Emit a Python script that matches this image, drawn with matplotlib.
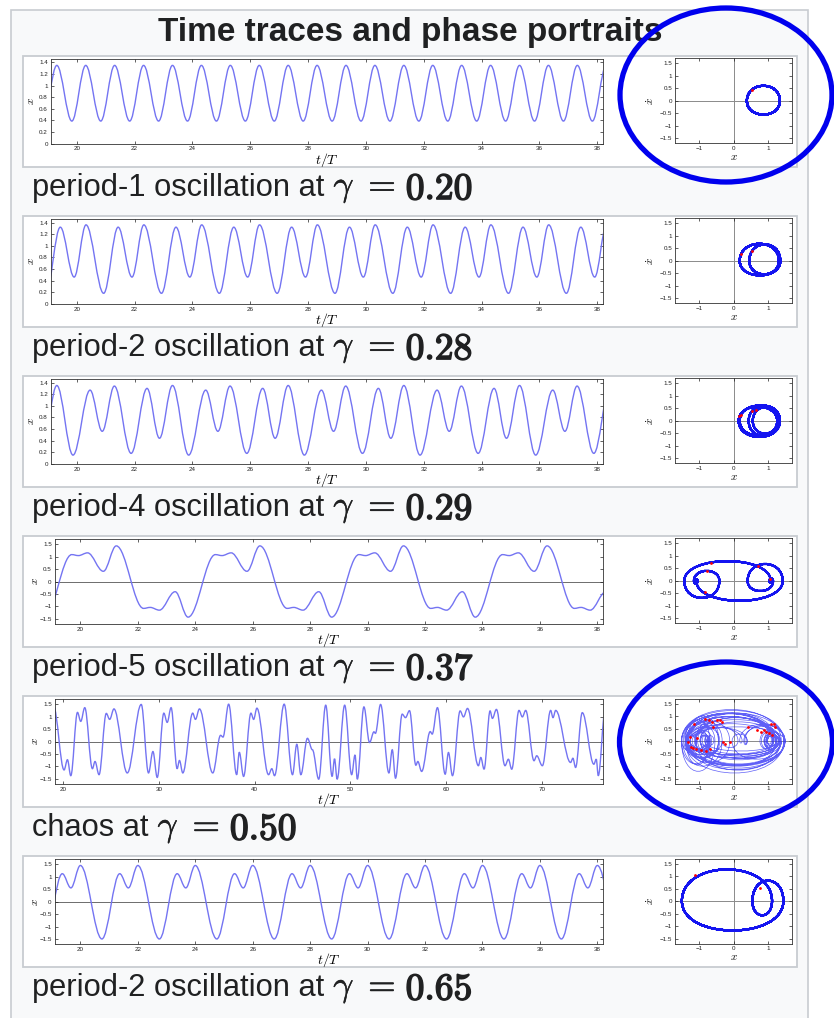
import numpy as np
import matplotlib
matplotlib.use("Agg")
import matplotlib.pyplot as plt
import matplotlib.patheffects as pe
from matplotlib.path import Path
from matplotlib.patches import PathPatch, Rectangle, Ellipse

plt.rcParams['mathtext.fontset'] = 'cm'
plt.rcParams['font.family'] = ['Liberation Sans', 'DejaVu Sans']

W, H = 834, 1018
OMEGA = 1.2
T_DRIVE = 2 * np.pi / OMEGA          # forcing period in time units

# ---------------------------------------------------------------- data
gammas = ["0.20", "0.28", "0.29", "0.37", "0.50", "0.65"]
captions = ["period-1 oscillation at", "period-2 oscillation at",
            "period-4 oscillation at", "period-5 oscillation at",
            "chaos at", "period-2 oscillation at"]

# turning points of x(t) over one repeat (t/T measured from the origin)
p1_origin, p1_period = 0.0, 1
p1_phase = [0.31, 0.83]
p1_x = [1.35, 0.39]

p2_origin, p2_period = 20.0, 2
p2_phase = [0.32, 0.93, 1.43, 1.91]
p2_x = [1.36, 0.18, 1.32, 0.46]

p4_origin, p4_period = 19.0, 4
p4_phase = [0.31, 0.87, 1.46, 1.88, 2.30, 2.88, 3.43, 3.86]
p4_x = [1.35, 0.15, 1.27, 0.56, 1.34, 0.18, 1.30, 0.44]

p5_origin, p5_period = 19.0, 5
p5_phase = [0.70, 0.93, 1.25, 1.80, 2.25, 3.20, 3.43, 3.75, 4.30, 4.75]
p5_x = [1.08, 1.04, 1.15, 0.41, 1.43, -1.08, -1.04, -1.15, -0.41, -1.43]

p2b_origin, p2b_period = 18.75, 2
p2b_phase = [0.00, 0.62, 0.92, 1.25]
p2b_x = [-1.50, 1.12, 0.55, 1.45]

# chaotic run: turning points of x(t)
chaos_t = [19.00, 20.10, 20.45, 20.80, 21.50, 21.84, 22.26, 23.06, 23.33, 23.75,
           24.51, 24.86, 25.31, 26.70, 28.16, 28.92, 29.38, 29.83, 30.52, 30.87,
           31.28, 31.91, 32.15, 32.50, 33.54, 33.82, 34.24, 35.63, 36.45, 36.70,
           37.29, 38.13, 38.40, 38.85, 39.62, 39.90, 40.24, 41.46, 41.80, 42.08,
           43.09, 43.96, 44.41, 44.83, 45.52, 46.04, 46.70, 47.43, 48.10, 48.35,
           48.62, 49.41, 50.14, 50.49, 50.73, 51.42, 52.01, 52.47, 52.62, 53.16,
           54.03, 54.38, 54.72, 55.42, 55.76, 56.18, 56.85, 57.05, 57.45, 58.35,
           58.55, 59.10, 59.91, 60.25, 60.67, 61.47, 61.82, 62.24, 63.38, 63.63,
           63.97, 64.60, 64.84, 65.26, 66.16, 66.51, 66.86, 67.62, 67.97, 68.32,
           69.19, 69.47, 70.06, 70.93, 71.17, 71.45, 73.01, 73.25, 73.53, 74.23,
           75.44, 75.69, 75.90, 76.60]
chaos_x = [1.40, -1.14, -0.73, -1.37, 1.17, 0.81, 1.36, -1.09, -0.80, -1.33,
           1.13, 0.89, 1.31, -1.26, 1.49, -1.26, -0.40, -1.44, 1.14, 0.77,
           1.36, -1.09, -0.76, -1.26, 1.14, 0.89, 1.31, -1.26, 0.25, 0.18,
           1.50, -1.33, -0.43, -1.40, 1.14, 0.89, 1.34, -1.33, -1.09, -1.37,
           1.50, -1.33, -0.11, -1.33, 0.13, -0.33, -1.51, 1.46, -1.40, -0.69,
           -1.51, 1.46, -1.33, -0.54, -1.51, 1.39, -0.04, 0.39, 0.33, 1.49,
           -1.26, -0.33, -1.47, 1.10, 0.96, 1.24, -0.95, -0.80, -1.20, 0.40,
           0.30, 1.36, -1.31, -0.44, -1.37, 1.23, 0.99, 1.33, -0.97, -0.64,
           -1.11, 1.23, 0.93, 1.29, -0.97, -0.71, -1.11, 1.25, 0.99, 1.25,
           -0.77, -0.57, -0.97, 1.25, 0.96, 1.25, -0.84, -0.67, -1.04, 1.16,
           -0.91, -0.71, -1.37, 1.20]

# stroboscopic (t = nT) points in the phase plane
poinc1_x, poinc1_v = [0.55], [0.45]
poinc2_x, poinc2_v = [0.21, 0.55], [0.27, 0.40]
poinc4_x, poinc4_v = [0.17, 0.21, 0.55, 0.64], [0.18, 0.25, 0.40, 0.42]
poinc5_x, poinc5_v = [-0.65, -0.78, -0.82, 0.72, 1.07], [0.73, 0.40, -0.43, 0.60, 0.09]
poincc_x = [-1.14, -0.84, -0.71, -0.62, -0.59, -0.49, -0.40, -0.33, -1.26, -1.31,
            -1.24, -1.19, -1.09, -0.95, -0.81, -0.67, -0.30, -0.24, -0.09, 0.41,
            0.69, 0.79, 0.88, 0.93, 1.03, 1.10, 1.17, 1.21, 1.12, -1.05]
poincc_v = [0.70, 0.90, 0.86, 0.77, 0.57, 0.86, 0.84, 0.77, 0.17, -0.03,
            -0.23, -0.29, -0.33, -0.36, -0.39, -0.33, -0.03, -0.12, -0.03, 0.57,
            0.44, 0.37, 0.44, 0.37, 0.31, 0.68, 0.70, 0.57, 0.24, 0.11]
poinc2b_x, poinc2b_v = [-1.12, 0.76], [1.04, 0.52]


# ---------------------------------------------------------------- helpers
def tile(phases, values, period, origin, t_lo, t_hi):
    ts, xs = [], []
    k = int(np.floor((t_lo - origin) / period)) - 1
    while origin + k * period <= t_hi + period:
        base = origin + k * period
        for p, v in zip(phases, values):
            ts.append(base + p)
            xs.append(v)
        k += 1
    return np.array(ts), np.array(xs)


def trace_path(ts, xs):
    """Smooth x(t) through turning points (horizontal tangents)."""
    verts = [(ts[0], xs[0])]
    codes = [Path.MOVETO]
    for t0, x0, t1, x1 in zip(ts[:-1], xs[:-1], ts[1:], xs[1:]):
        d = 0.363 * (t1 - t0)
        verts += [(t0 + d, x0), (t1 - d, x1), (t1, x1)]
        codes += [Path.CURVE4] * 3
    return Path(verts, codes)


def phase_path(ts, xs):
    """Half-loops in the (x, xdot) plane between successive turning points."""
    verts = [(xs[0], 0.0)]
    codes = [Path.MOVETO]
    for t0, x0, t1, x1 in zip(ts[:-1], xs[:-1], ts[1:], xs[1:]):
        v = np.pi * (x1 - x0) / (2 * (t1 - t0) * T_DRIVE)
        h = 4.0 / 3.0 * v
        verts += [(x0, h), (x1, h), (x1, 0.0)]
        codes += [Path.CURVE4] * 3
    return Path(verts, codes)


def px_rect(left, top, right, bottom):
    return [left / W, 1 - bottom / H, (right - left) / W, (bottom - top) / H]


def style_axes(ax):
    ax.tick_params(direction='in', length=2, width=0.5, labelsize=4.5,
                   pad=2, top=True, right=True, colors='#222222')
    for s in ax.spines.values():
        s.set_linewidth(0.6)
        s.set_color('#333333')


# ---------------------------------------------------------------- figure
fig = plt.figure(figsize=(W / 100, H / 100), dpi=100)
fig.patch.set_facecolor('white')
renderer = fig.canvas.get_renderer()

bg = fig.add_axes([0, 0, 1, 1], zorder=0)
bg.set_xlim(0, W)
bg.set_ylim(H, 0)
bg.axis('off')
bg.add_patch(Rectangle((11, 10), 797, 1030, facecolor='#f8f9fa',
                       edgecolor='#c8ccd1', lw=1.2))
bg.text(410, 32, "Time traces and phase portraits", ha='center', va='center',
        fontsize=24, fontweight='bold', color='#202122')

fg = fig.add_axes([0, 0, 1, 1], zorder=10)
fg.set_xlim(0, W)
fg.set_ylim(H, 0)
fg.axis('off')
fg.patch.set_alpha(0)

t_lo, t_hi = 100 / T_DRIVE, 200 / T_DRIVE
tc_hi = 400 / T_DRIVE

series = [
    tile(p1_phase, p1_x, p1_period, p1_origin, t_lo, t_hi),
    tile(p2_phase, p2_x, p2_period, p2_origin, t_lo, t_hi),
    tile(p4_phase, p4_x, p4_period, p4_origin, t_lo, t_hi),
    tile(p5_phase, p5_x, p5_period, p5_origin, t_lo, t_hi),
    (np.array(chaos_t), np.array(chaos_x)),
    tile(p2b_phase, p2b_x, p2b_period, p2b_origin, t_lo, t_hi),
]
poincare = [(poinc1_x, poinc1_v), (poinc2_x, poinc2_v), (poinc4_x, poinc4_v),
            (poinc5_x, poinc5_v), (poincc_x, poincc_v), (poinc2b_x, poinc2b_v)]

trace_color = '#7474f2'
phase_color = '#1414f0'
ink = '#202122'
bold_digits = [pe.withStroke(linewidth=1.1, foreground=ink)]
mid_weight = [pe.withStroke(linewidth=0.4, foreground=ink)]

for k in range(6):
    top = 55.7 + 160.05 * k
    bg.add_patch(Rectangle((23, top), 774, 111.5, facecolor='white',
                           edgecolor='#c8ccd1', lw=1.3))
    cap_y = top + 132.5
    cap = bg.text(32, cap_y, captions[k], ha='left', va='center',
                  fontsize=22.2, color=ink)
    x_end = cap.get_window_extent(renderer).x1
    sym = bg.text(x_end + 9, cap_y + 1, r"$\gamma\ =$", ha='left', va='center',
                  fontsize=25.5, color=ink, path_effects=mid_weight)
    x_sym = sym.get_window_extent(renderer).x1
    bg.text(x_sym + 10, cap_y + 1, "$" + gammas[k] + "$", ha='left', va='center',
            fontsize=27, color=ink, path_effects=bold_digits)

    ts, xs = series[k]
    centred = k >= 3
    left = 54.5 if centred else 50.7

    # time trace
    ax = fig.add_axes(px_rect(left, top + 3.3, 603, top + 88), zorder=2)
    style_axes(ax)
    if k == 4:
        ax.set_xlim(t_lo, tc_hi)
        ax.set_xticks(np.arange(20, 71, 10))
    else:
        ax.set_xlim(t_lo, t_hi)
        ax.set_xticks(np.arange(20, 39, 2))
    if centred:
        ax.set_ylim(-1.7, 1.7)
        ax.set_yticks([-1.5, -1, -0.5, 0, 0.5, 1, 1.5])
        ax.set_yticklabels(['\u22121.5', '\u22121', '\u22120.5', '0', '0.5', '1', '1.5'])
        ax.axhline(0, color='#555555', lw=0.6, zorder=1)
    else:
        ax.set_ylim(0, 1.46)
        ax.set_yticks(np.arange(0, 1.41, 0.2))
        ax.set_yticklabels(['0', '0.2', '0.4', '0.6', '0.8', '1', '1.2', '1.4'])
    ax.add_patch(PathPatch(trace_path(ts, xs), fill=False, edgecolor=trace_color,
                           lw=1.0, zorder=2))
    ax.set_xlabel(r'$t/T$', fontsize=10)
    ax.xaxis.set_label_coords(0.5, -0.085)
    ax.set_ylabel(r'$x$', fontsize=8)
    ax.yaxis.set_label_coords(-0.027, 0.5)

    # phase portrait
    ph = fig.add_axes(px_rect(675, top + 2.6, 792, top + 87.6), zorder=2)
    style_axes(ph)
    ph.set_xlim(-1.7, 1.7)
    ph.set_ylim(-1.7, 1.7)
    ph.set_xticks([-1, 0, 1])
    ph.set_xticklabels(['\u22121', '0', '1'])
    ph.set_yticks([-1.5, -1, -0.5, 0, 0.5, 1, 1.5])
    ph.set_yticklabels(['\u22121.5', '\u22121', '\u22120.5', '0', '0.5', '1', '1.5'])
    ph.axhline(0, color='#8a8a8a', lw=0.7, zorder=1)
    ph.axvline(0, color='#8a8a8a', lw=0.7, zorder=1)
    if k == 4:
        ph.add_patch(PathPatch(phase_path(ts, xs), fill=False, edgecolor='#2a2af5',
                               lw=0.5, alpha=0.75, zorder=2))
    else:
        ph.add_patch(PathPatch(phase_path(ts, xs), fill=False, edgecolor=phase_color,
                               lw=1.5, zorder=2))
    px, pv = poincare[k]
    ph.plot(px, pv, 'o', color='red', ms=2.0, mew=0, zorder=3)
    ph.set_xlabel(r'$x$', fontsize=8)
    ph.xaxis.set_label_coords(0.5, -0.10)
    ph.set_ylabel(r'$\dot{x}$', fontsize=8)
    ph.yaxis.set_label_coords(-0.165, 0.5)

# highlight rings
fg.add_patch(Ellipse((726, 95), 212, 174, fill=False, edgecolor='#0000ee', lw=3.8))
fg.add_patch(Ellipse((726, 742), 213, 160, fill=False, edgecolor='#0000ee', lw=3.8))

fig.savefig('out.png', dpi=100)
